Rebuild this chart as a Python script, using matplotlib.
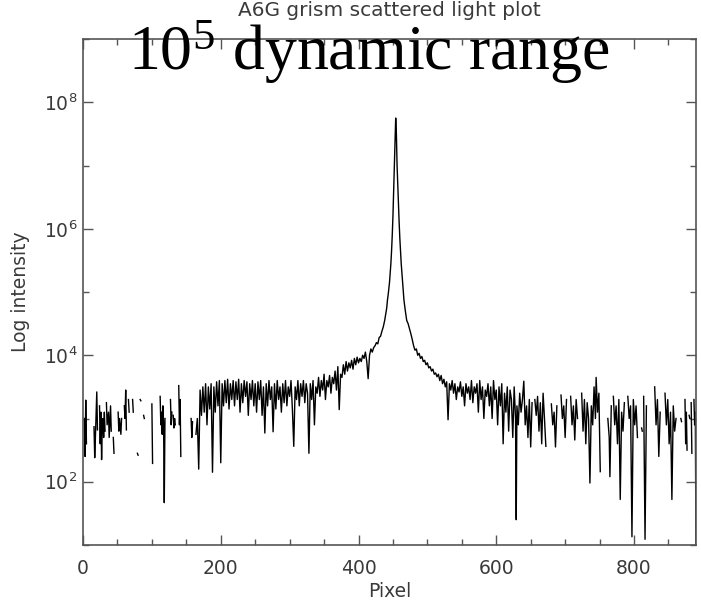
import numpy as np
import matplotlib
matplotlib.use("Agg")
import matplotlib.pyplot as plt
from matplotlib.ticker import FixedLocator, LogFormatterMathtext, NullFormatter

# --- data (log10 of intensity) ---
# left edge, patchy with gaps
left_px = [2, 3, 4, 5, 6, 15, 16, 17, 18, 20, 21, 22,
           24, 25, 26, 27, 28, 29, 30, 31, 32, 33,
           34, 35, 37, 38, 40, 41, 42, 44, 45, 46,
           51, 52, 53, 55, 56, 57, 60, 61, 62, 63, 64,
           66, 67, 68, 72, 73, 74, 79, 80, 81, 83, 84, 85, 88, 89, 90,
           100, 101, 102, 112, 113, 114, 115, 116, 117, 118, 119, 120,
           127, 128, 129, 130, 131, 132, 133, 134, 135,
           139, 140, 141, 142, 143, 150, 157, 158, 159, 161, 162]
left_log = [3.0, 2.4, 3.29, 2.6, np.nan, np.nan, 2.87, 2.38, 2.7, 3.42, 2.82, np.nan,
            3.2, 2.6, 3.1, 2.35, 2.9, 3.0, 2.7, 3.1, 2.8, np.nan,
            3.25, 2.9, 3.1, 2.7, 3.2, 2.8, np.nan, 2.7, 2.45, np.nan,
            3.1, 2.8, 3.0, 2.75, 3.0, np.nan, 3.2, 3.0, 3.45, 2.82, np.nan,
            3.3, 3.1, np.nan, 3.3, 3.1, np.nan, 2.45, 2.42, np.nan, 3.3, 3.28, np.nan, 3.05, 3.0, np.nan,
            3.23, 2.29, np.nan, 3.35, 2.9, 3.1, 2.75, 3.2, 2.9, 1.67, 3.0, np.nan,
            3.3, 2.9, 3.1, np.nan, 3.05, 2.85, 3.0, 2.9, np.nan,
            3.52, 2.9, 3.3, 2.4, np.nan, np.nan, 3.0, 2.7, 2.95, np.nan, np.nan]

# dense band and left wing, every 2 pixels from 164 to 440
band_log = [2.75, 3.0, 2.2, 3.45, 3.05, 3.5, 3.1, 3.55, 2.9, 3.5,
            3.15, 3.55, 2.15, 3.5, 3.1, 3.58, 3.2, 3.6, 2.3, 3.55,
            3.2, 3.6, 3.25, 3.62, 3.15, 3.55, 3.3, 3.6, 3.2, 3.58,
            3.3, 3.62, 3.1, 3.55, 3.25, 3.6, 3.35, 3.58, 3.05, 3.55,
            3.3, 3.6, 3.2, 3.55, 3.1, 3.58, 3.3, 3.6, 3.05, 3.5,
            2.77, 3.55, 3.2, 3.6, 3.3, 3.5, 2.79, 3.55, 3.15, 3.6,
            3.3, 3.5, 3.1, 3.55, 3.25, 3.6, 3.2, 3.5, 3.35, 3.6,
            3.15, 2.56, 3.5, 3.3, 3.6, 3.2, 3.55, 3.35, 3.6, 3.25,
            3.55, 3.4, 2.45, 3.55, 3.3, 3.6, 2.9, 3.5, 3.4, 3.65,
            3.35, 3.6, 3.45, 3.7, 3.3, 3.6, 3.5, 3.68, 3.4, 3.65,
            3.55, 3.75, 3.45, 3.82, 3.14, 3.7, 3.65, 3.85, 3.7, 3.9,
            3.75, 3.88, 3.8, 3.92, 3.78, 3.95, 3.85, 3.97, 3.88, 3.95,
            3.9, 4.0, 3.95, 4.05, 3.9, 3.63, 4.0, 4.1, 4.05, 4.12,
            4.15, 4.2, 4.18, 4.28, 4.3, 4.38, 4.45, 4.55, 4.68]

# the line itself, every pixel from 441 to 470
peak_log = [4.75, 4.87, 4.95, 5.05, 5.15, 5.3, 5.45, 5.65, 5.9, 6.2,
            6.6, 7.0, 7.4, 7.75, 7.5, 7.0, 6.7, 6.4, 6.1, 5.85,
            5.65, 5.45, 5.3, 5.15, 5.0, 4.87, 4.78, 4.7, 4.62, 4.55]

# right wing, every 2 pixels from 472 to 620
wing_log = [4.5, 4.42, 4.34, 4.25, 4.15, 4.08, 4.1, 4.0, 4.03, 3.95,
            3.98, 3.9, 3.92, 3.85, 3.88, 3.8, 3.82, 3.75, 3.78, 3.7,
            3.72, 3.66, 3.7, 3.6, 3.68, 3.55, 3.62, 3.5, 3.58, 2.98,
            3.55, 3.45, 3.6, 3.4, 3.55, 3.3, 3.5, 3.42, 3.58, 3.35,
            3.5, 3.2, 3.55, 3.4, 3.5, 3.3, 3.6, 3.25, 3.5, 3.4,
            3.55, 3.1, 3.6, 3.3, 3.5, 3.0, 3.45, 3.35, 3.55, 3.2,
            3.5, 3.0, 3.6, 3.3, 3.45, 2.9, 3.5, 3.2, 3.55, 2.6,
            3.4, 3.1, 3.5, 2.8, 3.45]

# right side, patchy with deep drops
right_px = [622, 624, 626, 628, 629, 630, 632, 634, 636, 638, 640, 642, 644, 646, 648, 650, 652, 654,
            656, 658, 660, 662, 664, 666, 668, 670, 672, 674,
            680, 682, 684, 686, 688, 690,
            694, 696, 698, 700, 702, 704,
            708, 710, 712, 714, 716, 718, 720,
            724, 726, 728, 730, 732, 734, 736, 738, 740, 742, 744, 745, 747, 749, 751, 753,
            762, 764, 765, 767, 769,
            770, 772, 774, 776, 778, 780, 782, 784, 786, 788,
            791, 793, 795, 797, 799, 801, 803, 805, 807,
            811, 812, 813, 814, 816, 818, 820,
            830, 832, 834, 836, 838, 840,
            845, 847, 849, 851, 853, 855, 857, 859, 861, 863,
            868, 869, 870, 874, 875, 876, 877, 878,
            880, 881, 882, 883, 884, 886, 887, 888, 889, 890]
right_log = [3.3, 2.7, 3.5, 3.0, 1.4, 3.2, 2.9, 3.4, 3.1, 3.3, 3.59, 2.9, 3.2, 2.7, 3.3, 2.55, 3.25, np.nan,
             3.3, 3.05, 3.35, 2.8, 3.25, 2.6, 3.4, 3.0, 2.56, np.nan,
             3.23, 2.9, 3.1, 2.55, 3.2, np.nan,
             3.37, 3.0, 3.2, 2.7, 3.3, np.nan,
             3.35, 2.9, 3.2, 2.66, 3.3, 3.0, np.nan,
             3.4, 2.8, 3.3, 2.6, 3.25, 3.0, 1.98, 3.2, 2.9, 3.5, 3.0, 3.65, 3.1, 3.4, 2.16, np.nan,
             3.0, 2.7, 2.08, 3.2, np.nan,
             3.35, 2.9, 3.2, 2.6, 3.3, 1.72, 3.1, 2.8, 3.25, np.nan,
             3.35, 3.0, 3.2, 1.13, 3.3, 2.9, 3.2, 2.7, np.nan,
             2.85, 2.8, np.nan, 3.35, 1.09, 3.2, np.nan,
             3.5, 2.9, 3.3, 2.4, 3.1, np.nan,
             3.4, 2.9, 3.3, 2.6, 3.1, 1.72, 3.2, 2.8, 3.0, np.nan,
             3.0, 2.95, np.nan, 3.3, 2.6, 3.1, 2.5, np.nan,
             3.05, 3.0, np.nan, 3.25, 2.45, np.nan, 3.3, 2.9, 3.1, 0.8]

band_px = np.arange(164, 441, 2)
peak_px = np.arange(441, 471)
wing_px = np.arange(472, 621, 2)

pixel = np.concatenate([left_px, band_px, peak_px, wing_px, right_px])
intensity = 10 ** np.concatenate([left_log, band_log, peak_log, wing_log, right_log])

# --- figure ---
W, H = 701, 607
fig = plt.figure(figsize=(W / 100, H / 100), dpi=100)
fig.patch.set_facecolor("white")
ax = fig.add_axes([83 / W, 1 - 545 / H, (696 - 83) / W, (545 - 39) / H])

ax.plot(pixel, intensity, color="black", lw=1.0)

ax.set_yscale("log")
ax.set_xlim(0, 890)
ax.set_ylim(1e1, 1e9)

ax.xaxis.set_major_locator(FixedLocator([0, 200, 400, 600, 800]))
ax.xaxis.set_minor_locator(FixedLocator(np.arange(50, 890, 50)))
ax.yaxis.set_major_locator(FixedLocator([1e2, 1e4, 1e6, 1e8]))
ax.yaxis.set_minor_locator(FixedLocator([1e1, 1e3, 1e5, 1e7, 1e9]))
ax.yaxis.set_major_formatter(LogFormatterMathtext())
ax.yaxis.set_minor_formatter(NullFormatter())

grey = "#3a3a3a"
for s in ax.spines.values():
    s.set_color("#555555")
    s.set_linewidth(1.2)
ax.tick_params(which="both", direction="in", top=True, right=True, colors="#555555",
               labelcolor=grey, labelsize=13.5)
ax.tick_params(which="major", length=7, width=1)
ax.tick_params(which="minor", length=4, width=1)
ax.tick_params(axis="x", pad=10)
ax.tick_params(axis="y", pad=4)

ax.set_xlabel("Pixel", fontsize=13.5, color=grey, labelpad=3)
ax.set_ylabel("Log intensity", fontsize=13.5, color=grey, labelpad=10)

fig.text((83 + 696) / 2 / W, 1 - 10 / H, "A6G grism scattered light plot",
         ha="center", va="center", fontsize=14.5, color=grey)

plt.rcParams["mathtext.fontset"] = "custom"
plt.rcParams["mathtext.rm"] = "Liberation Serif"
plt.rcParams["mathtext.it"] = "Liberation Serif:italic"
fig.text(128 / W, 1 - 70 / H, r"10$^{\mathrm{5}}$ dynamic range", ha="left", va="baseline",
         fontsize=46, color="black", family="Liberation Serif")

fig.savefig("out.png", dpi=100, facecolor="white")
